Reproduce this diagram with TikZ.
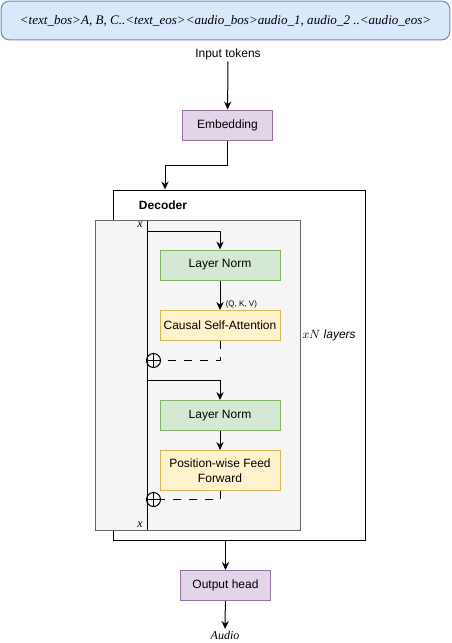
\documentclass[tikz,border=0pt]{standalone}
\usepackage{fontspec}
\setmainfont{Liberation Serif}
\setsansfont{Liberation Sans}
\usetikzlibrary{arrows.meta}

\definecolor{tokfill}{HTML}{DAE8FC}
\definecolor{tokline}{HTML}{6C8EBF}
\definecolor{purfill}{HTML}{E1D5E7}
\definecolor{purline}{HTML}{9673A6}
\definecolor{grnfill}{HTML}{D5E8D4}
\definecolor{grnline}{HTML}{82B366}
\definecolor{ylwfill}{HTML}{FFF2CC}
\definecolor{ylwline}{HTML}{D6B656}
\definecolor{gryfill}{HTML}{F5F5F5}
\definecolor{gryline}{HTML}{666666}

\begin{document}
\begin{tikzpicture}[
  x=0.75pt, y=-0.75pt,
  line width=0.75pt,
  font=\sffamily\fontsize{9}{11}\selectfont,
  every node/.style={inner sep=1pt, align=center},
  arr/.style={-{Stealth[length=6pt,width=5.5pt,inset=2pt]}},
  blockbox/.style={draw, rectangle, minimum width=90pt, minimum height=22.5pt},
  purbox/.style={blockbox, fill=purfill, draw=purline, minimum width=68pt},
  grnbox/.style={blockbox, fill=grnfill, draw=grnline},
  ylwbox/.style={blockbox, fill=ylwfill, draw=ylwline},
  addop/.style={circle, draw, minimum size=10.5pt, inner sep=0pt,
    path picture={\draw (path picture bounding box.north) -- (path picture bounding box.south)
      (path picture bounding box.west) -- (path picture bounding box.east);}},
  itlabel/.style={font=\rmfamily\itshape\fontsize{9}{11}\selectfont}
]
\useasboundingbox (0,0) rectangle (451,643);

% input
\node (tok) [draw=tokline, fill=tokfill, rounded corners=6pt, minimum width=336.5pt,
  minimum height=29pt, font=\rmfamily\itshape\fontsize{9.8}{12}\selectfont] at (225.5,20.5)
  {<text\_bos>A, B, C..<text\_eos><audio\_bos>audio\_1, audio\_2 ..<audio\_eos>};
\node (in) at (228,54) {Input tokens};
\node (emb) [purbox] at (227.5,125) {Embedding};

% decoder
\node (dec) [draw, minimum width=189pt, minimum height=262.5pt] at (239,365) {};
\node (declab) [font=\sffamily\bfseries\fontsize{9}{11}\selectfont] at (163,205) {Decoder};
\node (inner) [draw=gryline, fill=gryfill, minimum width=153.75pt, minimum height=232.5pt] at (197.5,375) {};
\node (ln1) [grnbox] at (220,265) {Layer Norm};
\node (csa) [ylwbox] at (220,325.5) {Causal Self-Attention};
\node (ln2) [grnbox] at (220,415.5) {Layer Norm};
\node (ff) [ylwbox, minimum height=30pt] at (220,470.5) {Position-wise Feed\\Forward};
\node (add1) [addop] at (153.5,360.5) {};
\node (add2) [addop] at (153.5,499.5) {};
\node (xtop) [itlabel] at (140,225) {x};
\node (xbot) [itlabel] at (140,525) {x};
\node (rep) [font=\sffamily\itshape\fontsize{9}{11}\selectfont] at (329,335) {{\rmfamily$xN$} layers};

% output
\node (out) [purbox, minimum width=67.5pt] at (225.5,585.5) {Output head};
\node (aud) [itlabel] at (225,635) {Audio};

\coordinate (bend) at (165,165);
\coordinate (rtop) at (147,220.5);
\coordinate (rbot) at (147,530);
\coordinate (br1) at (147,231);
\coordinate (br2) at (147,380.5);

\draw[arr] (in) -- (emb);
\draw[arr] (emb.south) |- (bend) -- (bend |- dec.north);
\draw (rtop) -- (rbot);
\draw[arr] (br1) -| (ln1.north);
\draw[arr] (ln1) -- node[pos=0.8, right, xshift=3pt, font=\sffamily\fontsize{6}{7}\selectfont] {(Q, K, V)} (csa);
\draw[dash pattern=on 6pt off 6pt] (csa.south) |- (add1.east);
\draw[arr] (br2) -| (ln2.north);
\draw[arr] (ln2) -- (ff);
\draw[dash pattern=on 6pt off 6pt] (ff.south) |- (add2.east);
\draw[arr] (out.north |- dec.south) -- (out.north);
\draw[arr] (out) -- (aud);
\end{tikzpicture}
\end{document}
